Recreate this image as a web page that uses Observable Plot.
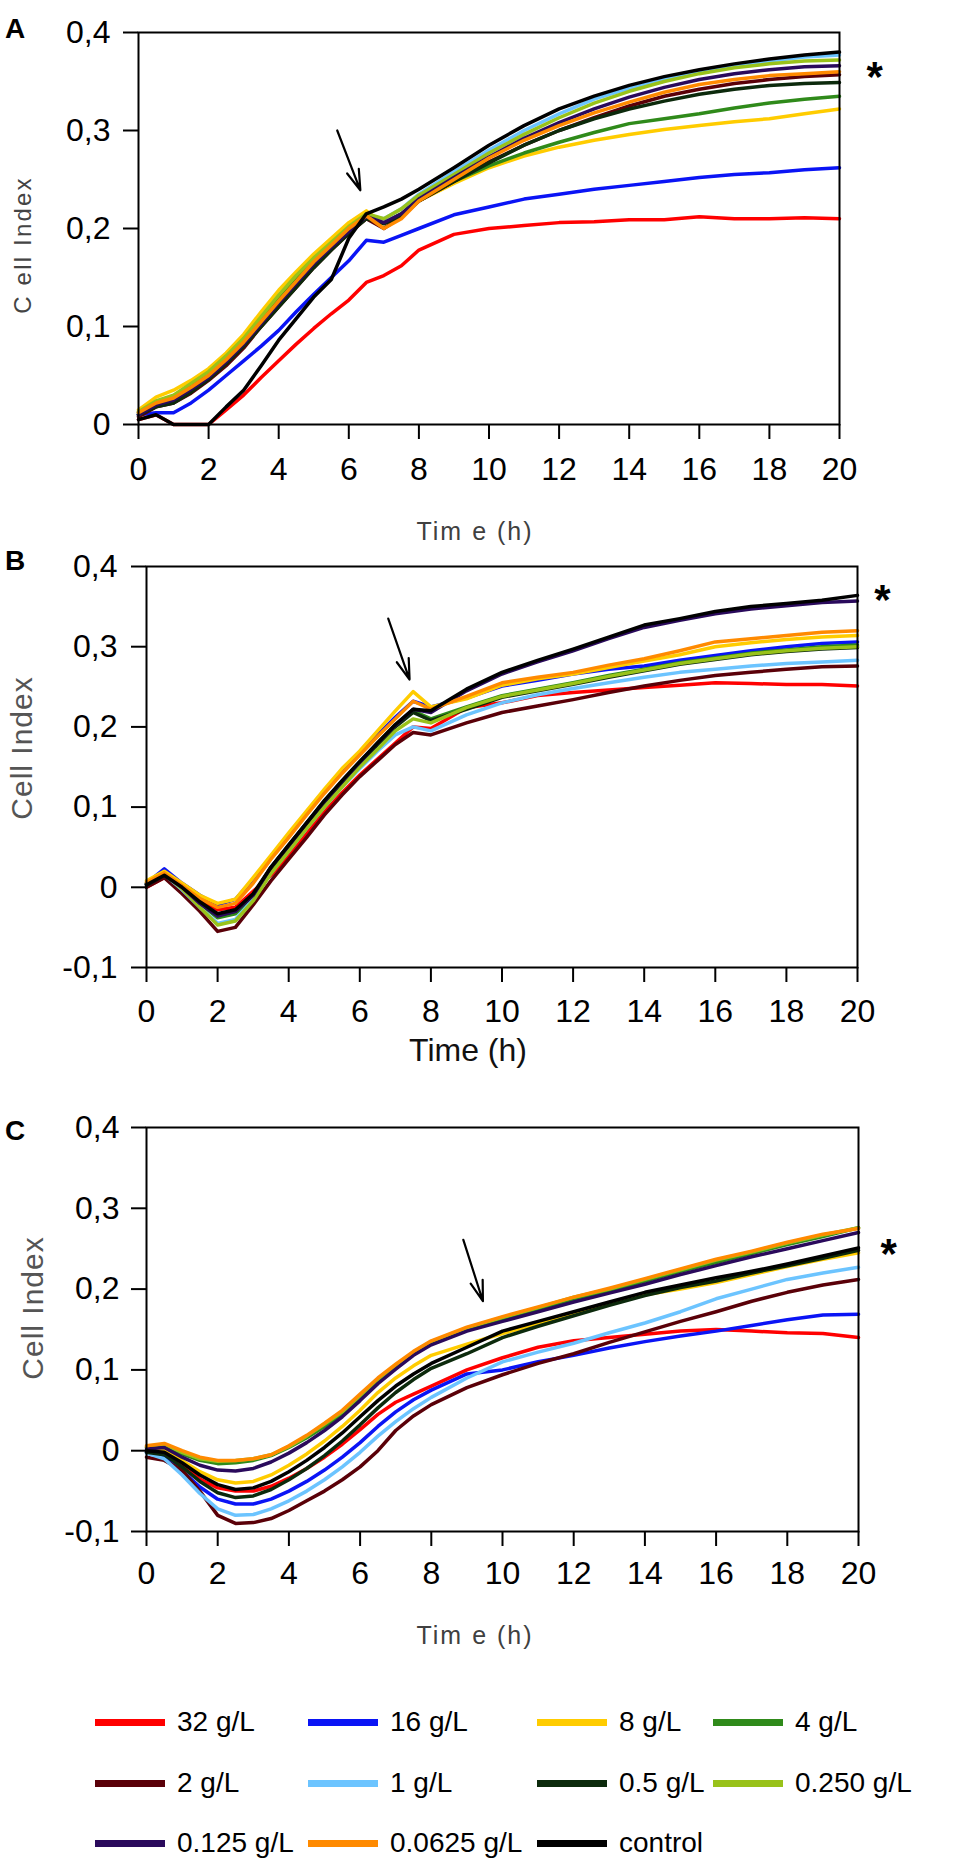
<!DOCTYPE html>
<html><head><meta charset="utf-8">
<script src="https://cdn.jsdelivr.net/npm/d3@7"></script>
<script src="https://cdn.jsdelivr.net/npm/@observablehq/plot@0.6"></script>
<style>
body{margin:0;background:#fff;font-family:"Liberation Sans",Arial,sans-serif;}
#page{position:relative;width:953px;height:1866px;overflow:hidden;background:#fff;}
.holder{position:absolute;left:0;}
.letter{position:absolute;font-weight:bold;font-size:28px;line-height:1;z-index:2;}
.ytitle{position:absolute;transform:translate(-50%,-50%) rotate(-90deg);white-space:nowrap;line-height:1;z-index:2;}
.xtitle{position:absolute;transform:translate(-50%,-50%);white-space:nowrap;line-height:1;z-index:2;}
.leg{position:absolute;display:flex;align-items:center;height:40px;transform:translateY(-50%);font-size:28px;color:#000;}
.leg span.sw{display:inline-block;width:70px;height:7px;margin-right:12px;}
</style></head>
<body><div id="page">
<div class="holder" id="pA" style="top:0"></div>
<div class="holder" id="pB" style="top:550px"></div>
<div class="holder" id="pC" style="top:1080px"></div>
<div class="letter" style="left:5px;top:15px">A</div>
<div class="letter" style="left:5px;top:547px">B</div>
<div class="letter" style="left:5px;top:1117px">C</div>
<div class="ytitle" style="left:23px;top:245px;font-size:24px;letter-spacing:2.2px;color:#444">C ell Index</div>
<div class="xtitle" style="left:475px;top:531px;font-size:25px;letter-spacing:2px;color:#404040">Tim e (h)</div>
<div class="ytitle" style="left:22px;top:748px;font-size:30px;letter-spacing:1px;color:#555">Cell Index</div>
<div class="xtitle" style="left:468px;top:1050px;font-size:32px;color:#111">Time (h)</div>
<div class="ytitle" style="left:33px;top:1308px;font-size:30px;letter-spacing:1px;color:#555">Cell Index</div>
<div class="xtitle" style="left:475px;top:1635px;font-size:25px;letter-spacing:2px;color:#404040">Tim e (h)</div>
<div id="legend"></div>
</div>
<script>
const series = ["32 g/L","16 g/L","8 g/L","4 g/L","2 g/L","1 g/L","0.5 g/L","0.250 g/L","0.125 g/L","0.0625 g/L","control"];
const colors = ["#ff0000","#0a14f5","#ffcc00","#2f8a1a","#5a0008","#6cc4ff","#0c2a0c","#99c21a","#2a0a5c","#ff8a00","#000000"];
const time = [0,0.5,1,1.5,2,2.5,3,3.5,4,4.5,5,5.5,6,6.5,7,7.5,8,9,10,11,12,13,14,15,16,17,18,19,20];
const xTicks = [0,2,4,6,8,10,12,14,16,18,20];
const yTicksA = [0,0.1,0.2,0.3,0.4];
const yTicksBC = [-0.1,0,0.1,0.2,0.3,0.4];

// Panel A
const a32 = [0.005,0.01,0.0,0.0,0.0,0.015,0.03,0.048,0.065,0.082,0.098,0.113,0.127,0.145,0.152,0.162,0.178,0.194,0.2,0.203,0.206,0.207,0.209,0.209,0.212,0.21,0.21,0.211,0.21];
const a16 = [0.01,0.012,0.012,0.022,0.035,0.05,0.065,0.08,0.096,0.115,0.133,0.15,0.167,0.188,0.186,0.193,0.2,0.214,0.222,0.23,0.235,0.24,0.244,0.248,0.252,0.255,0.257,0.26,0.262];
const a8 = [0.015,0.028,0.035,0.045,0.057,0.073,0.092,0.115,0.137,0.156,0.174,0.19,0.206,0.218,0.205,0.215,0.228,0.246,0.262,0.274,0.283,0.29,0.296,0.301,0.305,0.309,0.312,0.317,0.322];
const a4 = [0.012,0.022,0.028,0.04,0.05,0.066,0.085,0.106,0.128,0.148,0.167,0.183,0.2,0.213,0.205,0.215,0.23,0.248,0.264,0.277,0.288,0.298,0.307,0.312,0.317,0.323,0.328,0.332,0.335];
const a2 = [0.008,0.018,0.022,0.032,0.045,0.06,0.078,0.1,0.12,0.14,0.16,0.178,0.195,0.21,0.2,0.212,0.228,0.248,0.268,0.285,0.3,0.313,0.325,0.335,0.342,0.348,0.352,0.355,0.357];
const a1 = [0.01,0.02,0.025,0.035,0.048,0.064,0.082,0.104,0.125,0.145,0.165,0.182,0.198,0.213,0.21,0.22,0.235,0.258,0.28,0.3,0.317,0.332,0.343,0.352,0.36,0.366,0.371,0.375,0.377];
const a05 = [0.01,0.018,0.022,0.033,0.046,0.062,0.08,0.1,0.12,0.14,0.16,0.178,0.195,0.21,0.205,0.212,0.228,0.248,0.267,0.285,0.3,0.312,0.322,0.33,0.337,0.342,0.346,0.348,0.349];
const a025 = [0.013,0.024,0.03,0.042,0.054,0.07,0.088,0.11,0.132,0.152,0.17,0.186,0.202,0.215,0.21,0.22,0.234,0.255,0.277,0.296,0.313,0.328,0.34,0.35,0.358,0.364,0.368,0.371,0.372];
const a0125 = [0.01,0.02,0.025,0.036,0.048,0.064,0.082,0.103,0.124,0.144,0.164,0.181,0.197,0.212,0.206,0.215,0.23,0.252,0.273,0.292,0.308,0.322,0.334,0.344,0.352,0.358,0.362,0.365,0.366];
const a00625 = [0.012,0.022,0.027,0.038,0.05,0.066,0.084,0.105,0.126,0.146,0.166,0.183,0.2,0.213,0.2,0.21,0.228,0.25,0.272,0.29,0.305,0.318,0.329,0.339,0.347,0.352,0.356,0.358,0.36];
const aCtrl = [0.005,0.01,0.0,0.0,0.0,0.018,0.035,0.06,0.086,0.108,0.13,0.148,0.19,0.215,0.222,0.23,0.24,0.262,0.285,0.305,0.322,0.335,0.346,0.355,0.362,0.368,0.373,0.377,0.38];

// Panel B
const b32 = [0.0,0.012,0.0,-0.015,-0.028,-0.025,-0.005,0.015,0.04,0.067,0.094,0.118,0.14,0.16,0.18,0.2,0.198,0.224,0.23,0.239,0.243,0.246,0.249,0.252,0.255,0.254,0.253,0.253,0.251];
const b16 = [0.005,0.023,0.005,-0.01,-0.022,-0.015,0.01,0.037,0.065,0.092,0.12,0.145,0.168,0.19,0.212,0.232,0.225,0.236,0.251,0.258,0.266,0.272,0.276,0.283,0.289,0.295,0.3,0.304,0.306];
const b8 = [0.008,0.02,0.005,-0.01,-0.02,-0.015,0.012,0.04,0.068,0.095,0.122,0.148,0.17,0.195,0.22,0.244,0.225,0.235,0.252,0.26,0.266,0.274,0.282,0.29,0.3,0.305,0.309,0.312,0.314];
const b4 = [0.004,0.016,0.0,-0.02,-0.038,-0.033,-0.012,0.025,0.052,0.08,0.107,0.132,0.155,0.18,0.202,0.22,0.21,0.225,0.239,0.247,0.255,0.264,0.272,0.28,0.286,0.292,0.296,0.3,0.302];
const b2 = [0.0,0.012,-0.008,-0.03,-0.055,-0.05,-0.022,0.008,0.035,0.062,0.09,0.115,0.138,0.158,0.178,0.193,0.19,0.205,0.218,0.226,0.234,0.243,0.251,0.258,0.264,0.268,0.272,0.275,0.276];
const b1 = [0.004,0.016,-0.003,-0.025,-0.045,-0.04,-0.015,0.018,0.045,0.073,0.1,0.125,0.148,0.17,0.19,0.2,0.195,0.215,0.23,0.24,0.248,0.255,0.262,0.268,0.272,0.276,0.279,0.281,0.283];
const b05 = [0.003,0.015,0.0,-0.02,-0.035,-0.03,-0.01,0.022,0.05,0.078,0.105,0.13,0.153,0.178,0.2,0.218,0.208,0.222,0.237,0.245,0.253,0.262,0.27,0.278,0.284,0.29,0.294,0.297,0.299];
const b025 = [0.005,0.017,-0.002,-0.025,-0.047,-0.042,-0.017,0.017,0.045,0.073,0.1,0.125,0.15,0.172,0.195,0.21,0.205,0.224,0.238,0.246,0.254,0.263,0.271,0.279,0.285,0.291,0.295,0.298,0.3];
const b0125 = [0.004,0.016,0.0,-0.02,-0.036,-0.03,-0.01,0.025,0.052,0.08,0.107,0.132,0.156,0.18,0.202,0.222,0.218,0.245,0.266,0.281,0.295,0.31,0.324,0.333,0.341,0.347,0.351,0.355,0.357];
const b00625 = [0.006,0.018,0.002,-0.014,-0.025,-0.02,0.005,0.035,0.062,0.09,0.117,0.142,0.165,0.188,0.21,0.232,0.222,0.238,0.255,0.262,0.268,0.277,0.285,0.295,0.306,0.31,0.314,0.318,0.32];
const bCtrl = [0.003,0.015,0.0,-0.018,-0.033,-0.028,-0.008,0.025,0.053,0.08,0.108,0.133,0.157,0.18,0.203,0.222,0.22,0.247,0.268,0.283,0.297,0.312,0.327,0.335,0.344,0.35,0.354,0.358,0.364];

// Panel C
const c32 = [0.0,-0.004,-0.018,-0.035,-0.046,-0.05,-0.05,-0.044,-0.034,-0.022,-0.008,0.008,0.026,0.045,0.06,0.07,0.08,0.1,0.115,0.128,0.136,0.14,0.144,0.148,0.15,0.148,0.146,0.145,0.14];
const c16 = [-0.002,-0.008,-0.025,-0.045,-0.06,-0.066,-0.066,-0.06,-0.05,-0.038,-0.024,-0.008,0.01,0.03,0.048,0.063,0.075,0.095,0.1,0.11,0.118,0.127,0.135,0.142,0.148,0.155,0.162,0.168,0.169];
const c8 = [0.0,0.0,-0.012,-0.026,-0.036,-0.04,-0.038,-0.03,-0.018,-0.004,0.012,0.03,0.05,0.072,0.09,0.105,0.118,0.132,0.145,0.157,0.17,0.182,0.193,0.2,0.208,0.218,0.228,0.237,0.245];
const c4 = [0.004,0.006,-0.004,-0.012,-0.016,-0.015,-0.012,-0.006,0.004,0.016,0.03,0.046,0.066,0.086,0.104,0.12,0.133,0.15,0.163,0.175,0.187,0.198,0.21,0.222,0.233,0.244,0.255,0.265,0.276];
const c2 = [-0.008,-0.012,-0.024,-0.05,-0.08,-0.09,-0.089,-0.084,-0.074,-0.062,-0.05,-0.036,-0.02,0.0,0.025,0.043,0.057,0.078,0.094,0.108,0.12,0.134,0.147,0.16,0.172,0.185,0.196,0.205,0.212];
const c1 = [-0.003,-0.01,-0.03,-0.053,-0.072,-0.08,-0.079,-0.072,-0.062,-0.05,-0.036,-0.02,-0.002,0.018,0.036,0.052,0.066,0.09,0.11,0.122,0.133,0.146,0.158,0.172,0.188,0.2,0.212,0.22,0.227];
const c05 = [-0.002,-0.005,-0.02,-0.038,-0.052,-0.058,-0.056,-0.048,-0.036,-0.022,-0.006,0.012,0.032,0.053,0.072,0.088,0.102,0.12,0.14,0.154,0.167,0.18,0.192,0.202,0.21,0.22,0.229,0.238,0.248];
const c025 = [0.005,0.008,-0.002,-0.01,-0.013,-0.012,-0.01,-0.005,0.005,0.018,0.033,0.048,0.068,0.088,0.105,0.122,0.135,0.152,0.165,0.177,0.19,0.2,0.212,0.224,0.236,0.246,0.257,0.267,0.276];
const c0125 = [0.002,0.004,-0.008,-0.018,-0.024,-0.025,-0.022,-0.014,-0.003,0.01,0.025,0.042,0.062,0.083,0.101,0.118,0.131,0.148,0.16,0.172,0.184,0.195,0.206,0.218,0.229,0.24,0.25,0.26,0.27];
const c00625 = [0.006,0.009,0.0,-0.008,-0.012,-0.012,-0.01,-0.005,0.006,0.019,0.034,0.05,0.07,0.09,0.107,0.123,0.136,0.153,0.166,0.178,0.19,0.201,0.213,0.225,0.237,0.247,0.258,0.268,0.275];
const cCtrl = [0.0,-0.002,-0.015,-0.03,-0.042,-0.048,-0.046,-0.038,-0.026,-0.012,0.004,0.022,0.042,0.062,0.08,0.095,0.108,0.128,0.148,0.16,0.172,0.184,0.196,0.205,0.214,0.222,0.231,0.241,0.251];

// annotations (data coordinates)
const arrowsA = [{t1:5.67,v1:0.30,t2:6.33,v2:0.239}];
const arrowsB = [{t1:6.8,v1:0.335,t2:7.4,v2:0.259}];
const arrowsC = [{t1:8.9,v1:0.261,t2:9.45,v2:0.185}];
const starA = [{t:21.0,v:0.366}];
const starB = [{t:20.7,v:0.372}];
const starC = [{t:20.85,v:0.257}];

const fmt = d => d === 0 ? "0" : String(d).replace(".", ",");

function table(values) {
  const rows = [];
  series.forEach((s, i) => values[i].forEach((v, j) => rows.push({t: time[j], v, s})));
  return rows;
}

function panel(values, o) {
  return Plot.plot({
    width: 953, height: o.height,
    marginLeft: o.ml, marginRight: o.mr, marginTop: o.mt, marginBottom: o.mb,
    x: {domain: [0, 20]},
    y: {domain: o.yd},
    color: {domain: series, range: colors},
    style: {fontFamily: '"Liberation Sans", Arial, sans-serif', background: "transparent", color: "#000", overflow: "visible"},
    marks: [
      Plot.line(table(values), {x: "t", y: "v", z: "s", stroke: "s", strokeWidth: 3.5, strokeLinejoin: "round"}),
      Plot.frame({stroke: "#000", strokeWidth: 2}),
      Plot.axisY({ticks: o.yt, tickFormat: fmt, tickSize: 15, tickPadding: o.yp, strokeWidth: 2, fontSize: 32, label: null}),
      Plot.axisX({ticks: xTicks, tickFormat: d => String(d), tickSize: 15, tickPadding: o.xp, strokeWidth: 2, fontSize: 32, label: null}),
      Plot.arrow(o.arrows, {x1: "t1", y1: "v1", x2: "t2", y2: "v2", stroke: "#000", strokeWidth: 2.2, headLength: 18, headAngle: 34}),
      Plot.text(o.star, {x: "t", y: "v", text: () => "*", fontSize: 42, fontWeight: "bold", dy: 12})
    ]
  });
}

document.getElementById("pA").append(panel(
  [a32,a16,a8,a4,a2,a1,a05,a025,a0125,a00625,aCtrl],
  {height: 550, ml: 138, mr: 114, mt: 32, mb: 126, yd: [0, 0.4], yt: yTicksA, yp: 13, xp: 18, arrows: arrowsA, star: starA}));
document.getElementById("pB").append(panel(
  [b32,b16,b8,b4,b2,b1,b05,b025,b0125,b00625,bCtrl],
  {height: 530, ml: 146, mr: 96, mt: 16, mb: 113, yd: [-0.1, 0.4], yt: yTicksBC, yp: 14, xp: 17, arrows: arrowsB, star: starB}));
document.getElementById("pC").append(panel(
  [c32,c16,c8,c4,c2,c1,c05,c025,c0125,c00625,cCtrl],
  {height: 600, ml: 146, mr: 95, mt: 47, mb: 149, yd: [-0.1, 0.4], yt: yTicksBC, yp: 12, xp: 15, arrows: arrowsC, star: starC}));

// legend
const legRows = [1722, 1783, 1843];
const legCols = [95, 308, 537, 713];
const leg = document.getElementById("legend");
series.forEach((s, i) => {
  const d = document.createElement("div");
  d.className = "leg";
  d.style.left = legCols[i % 4] + "px";
  d.style.top = legRows[Math.floor(i / 4)] + "px";
  d.innerHTML = `<span class="sw" style="background:${colors[i]}"></span><span>${s}</span>`;
  leg.append(d);
});
</script>
</body></html>
